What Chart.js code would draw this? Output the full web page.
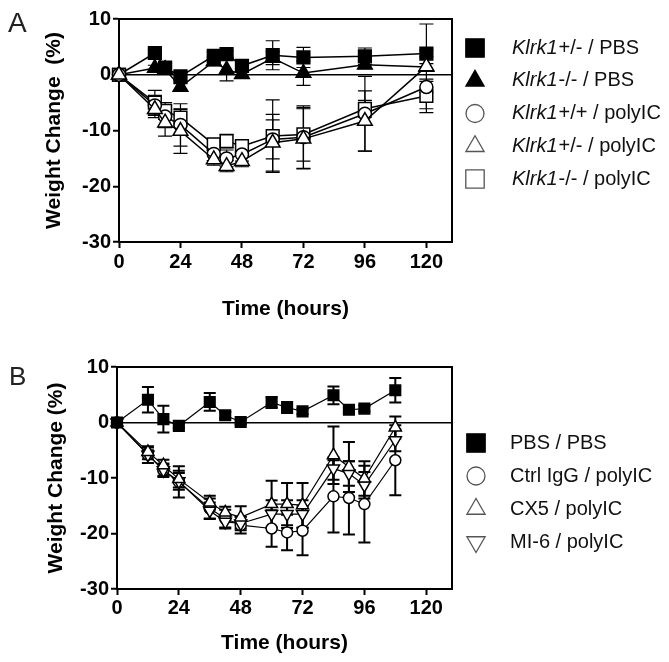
<!DOCTYPE html>
<html>
<head>
<meta charset="utf-8">
<script src="https://cdn.jsdelivr.net/npm/chart.js@4.4.1/dist/chart.umd.min.js"></script>
<style>
  html, body { margin: 0; padding: 0; background: #fff; }
  #wrap { position: relative; width: 669px; height: 662px; overflow: hidden; }
  canvas { position: absolute; left: 0; }
  #chartA { top: 0; }
  #chartB { top: 335px; }
</style>
</head>
<body>
<div id="wrap">
  <canvas id="chartA" width="669" height="335"></canvas>
  <canvas id="chartB" width="669" height="327"></canvas>
</div>
<script>
const FONT = 'Arial, "Liberation Sans", Helvetica, sans-serif';

// shared axes
const xTicks = [0, 24, 48, 72, 96, 120];
const yTicks = [-30, -20, -10, 0, 10];

// Panel A - Klrk1 mice
const timesA = [0, 14, 18, 24, 37, 42, 48, 60, 72, 96, 120];
const namesA = ["Klrk1+/- / PBS", "Klrk1-/- / PBS", "Klrk1+/+ / polyIC", "Klrk1+/- / polyIC", "Klrk1-/- / polyIC"];
const hetPbs = [0, 3.9, 1.3, -0.3, 3.4, 3.7, 1.6, 3.5, 3.1, 3.3, 3.8];
const hetPbsErr = [0, 0.6, 0.8, 0.8, 0.7, 0.6, 0.9, 2.6, 1.8, 1.5, 0.6];
const koPbs = [0, 1.2, 1.0, -2.2, 2.4, 0.9, 0.1, 3.0, 0.3, 1.8, 1.4];
const koPbsErr = [0, 0.5, 0.5, 0.6, 0.8, 2.0, 0.7, 1.2, 2.2, 0.7, 0.6];
const wtPoly = [0, -5.5, -7.5, -9.0, -14.2, -15.0, -14.3, -11.6, -11.2, -7.0, -2.2];
const wtPolyErr = [0, 1.8, 2.0, 3.8, 1.2, 1.5, 1.2, 3.5, 5.6, 6.7, 1.0];
const hetPoly = [0, -6.2, -8.6, -10.1, -15.2, -16.4, -15.5, -12.2, -11.5, -8.3, 1.5];
const hetPolyErr = [0, 1.5, 2.4, 4.0, 1.0, 1.0, 1.0, 5.1, 5.4, 5.4, 7.6];
const koPoly = [0, -5.0, -6.5, -7.7, -12.5, -11.9, -12.8, -11.0, -10.7, -6.1, -3.8];
const koPolyErr = [0, 2.2, 1.5, 1.5, 1.0, 1.2, 1.0, 6.5, 4.8, 1.5, 3.0];

// Panel B - antibody treatment
const timesB = [0, 12, 18, 24, 36, 42, 48, 60, 66, 72, 84, 90, 96, 108];
const namesB = ["PBS / PBS", "Ctrl IgG / polyIC", "CX5 / polyIC", "MI-6 / polyIC"];
const pbsPbs = [0, 4.1, 0.6, -0.6, 3.7, 1.3, 0.1, 3.6, 2.7, 2.0, 4.9, 2.3, 2.5, 5.8];
const pbsPbsErr = [0, 2.3, 2.4, 0.4, 1.6, 0.6, 0.4, 1.0, 1.0, 0.5, 1.6, 0.5, 0.5, 2.2];
const igGPoly = [0, -5.8, -8.6, -10.7, -15.5, -17.3, -18.5, -19.1, -19.8, -19.5, -13.3, -13.6, -14.7, -6.8];
const igGPolyErr = [0, 1.5, 1.2, 2.8, 1.8, 1.6, 1.5, 3.3, 3.2, 4.4, 6.5, 6.6, 6.9, 6.3];
const cx5Poly = [0, -5.3, -7.7, -10.2, -14.4, -16.2, -17.1, -14.7, -14.7, -14.9, -5.9, -8.0, -10.1, -0.9];
const cx5PolyErr = [0, 0.8, 1.0, 1.5, 1.2, 1.0, 2.0, 4.2, 3.8, 4.0, 5.2, 4.5, 3.1, 2.0];
const mi6Poly = [0, -5.8, -8.6, -10.6, -15.9, -17.9, -18.2, -16.5, -16.5, -16.5, -8.3, -9.2, -11.3, -3.2];
const mi6PolyErr = [0, 0.8, 1.0, 1.5, 1.5, 1.2, 1.2, 2.5, 2.5, 2.5, 2.0, 2.2, 2.4, 2.0];

const ITALIC_PREFIX = "Klrk1";

// marker shapes
const MARKERS = {
  square: { pointStyle: "rect", rotation: 0 },
  triangle: { pointStyle: "triangle", rotation: 0 },
  circle: { pointStyle: "circle", rotation: 0 },
  nabla: { pointStyle: "triangle", rotation: 180 },
};

const panelA = {
  canvas: "chartA",
  letter: "A", letterX: 8, letterY: 32, letterSize: 28,
  times: timesA,
  series: [
    { name: namesA[0], values: hetPbs, errors: hetPbsErr, marker: "square", filled: true, order: 3 },
    { name: namesA[1], values: koPbs, errors: koPbsErr, marker: "triangle", filled: true, order: 4 },
    { name: namesA[2], values: wtPoly, errors: wtPolyErr, marker: "circle", filled: false, order: 1 },
    { name: namesA[3], values: hetPoly, errors: hetPolyErr, marker: "triangle", filled: false, order: 0 },
    { name: namesA[4], values: koPoly, errors: koPolyErr, marker: "square", filled: false, order: 2 },
  ],
  yTitle: "Weight Change  (%)",
  padTop: 19, yAxisWidth: 119, xAxisHeight: 93,
  yTitlePad: 42, xTitlePad: 13, xTickPad: 2,
  radius: { square: 9, triangle: 8.5, circle: 6.5, nabla: 8.5 },
  lineWidth: 1.5, errWidth: 1.2, cap: 7,
  legend: { markerX: 475, textX: 512, top: 48, step: 32.75 },
};

const panelB = {
  canvas: "chartB",
  letter: "B", letterX: 9, letterY: 50, letterSize: 26,
  times: timesB,
  series: [
    { name: namesB[0], values: pbsPbs, errors: pbsPbsErr, marker: "square", filled: true, order: 0 },
    { name: namesB[1], values: igGPoly, errors: igGPolyErr, marker: "circle", filled: false, order: 3 },
    { name: namesB[2], values: cx5Poly, errors: cx5PolyErr, marker: "triangle", filled: false, order: 1 },
    { name: namesB[3], values: mi6Poly, errors: mi6PolyErr, marker: "nabla", filled: false, order: 2 },
  ],
  yTitle: "Weight Change (%)",
  padTop: 32, yAxisWidth: 117, xAxisHeight: 73,
  yTitlePad: 44, xTitlePad: 6, xTickPad: 1,
  radius: { square: 7.5, triangle: 7, circle: 5.5, nabla: 7 },
  lineWidth: 1.2, errWidth: 2, cap: 6,
  legend: { markerX: 476, textX: 510, top: 108, step: 33 },
};

const LEGEND_RADIUS = { square: 13, triangle: 10.5, circle: 9, nabla: 10.5 };

// error bars, drawn under the markers
const errorBarPlugin = {
  id: "errorBars",
  beforeDatasetsDraw(chart, args, opts) {
    const { ctx } = chart;
    const xs = chart.scales.x;
    const ys = chart.scales.y;
    ctx.save();
    ctx.strokeStyle = "#000";
    ctx.lineWidth = opts.width;
    chart.data.datasets.forEach((ds) => {
      ds.data.forEach((pt, i) => {
        let e = ds.errors[i];
        if (!e) return;
        let px = xs.getPixelForValue(pt.x);
        let top = ys.getPixelForValue(pt.y + e);
        let bot = ys.getPixelForValue(pt.y - e);
        ctx.beginPath();
        ctx.moveTo(px, top);
        ctx.lineTo(px, bot);
        ctx.moveTo(px - opts.cap, top);
        ctx.lineTo(px + opts.cap, top);
        ctx.moveTo(px - opts.cap, bot);
        ctx.lineTo(px + opts.cap, bot);
        ctx.stroke();
      });
    });
    ctx.restore();
  },
};

// top and right edges of the box
const framePlugin = {
  id: "frame",
  beforeDatasetsDraw(chart) {
    const { ctx, chartArea: a } = chart;
    ctx.save();
    ctx.strokeStyle = "#000";
    ctx.lineWidth = 2;
    ctx.beginPath();
    ctx.moveTo(a.left, a.top);
    ctx.lineTo(a.right, a.top);
    ctx.lineTo(a.right, a.bottom);
    ctx.stroke();
    ctx.restore();
  },
};

// legend with italic gene name + panel letter
const sideLegendPlugin = {
  id: "sideLegend",
  afterDraw(chart, args, opts) {
    const { ctx } = chart;
    const p = opts.panel;
    ctx.save();
    p.series.forEach((s, i) => {
      let y = p.legend.top + i * p.legend.step;
      let m = MARKERS[s.marker];
      ctx.fillStyle = s.filled ? "#000" : "#fff";
      ctx.strokeStyle = s.filled ? "#000" : "#555";
      ctx.lineWidth = 1.3;
      Chart.helpers.drawPoint(ctx, {
        pointStyle: m.pointStyle,
        radius: LEGEND_RADIUS[s.marker],
        rotation: m.rotation,
        borderWidth: 1.3,
      }, p.legend.markerX, y);

      ctx.fillStyle = "#111";
      ctx.textBaseline = "middle";
      ctx.textAlign = "left";
      let x = p.legend.textX;
      let rest = s.name;
      if (rest.startsWith(ITALIC_PREFIX)) {
        ctx.font = "italic 20px " + FONT;
        ctx.fillText(ITALIC_PREFIX, x, y);
        x += ctx.measureText(ITALIC_PREFIX).width + 1;
        rest = rest.slice(ITALIC_PREFIX.length);
      }
      ctx.font = "20px " + FONT;
      ctx.fillText(rest, x, y);
    });

    ctx.fillStyle = "#222";
    ctx.textBaseline = "alphabetic";
    ctx.font = p.letterSize + "px " + FONT;
    ctx.fillText(p.letter, p.letterX, p.letterY);
    ctx.restore();
  },
};

function makePanel(p) {
  let datasets = p.series.map((s) => {
    let m = MARKERS[s.marker];
    return {
      label: s.name,
      data: p.times.map((t, i) => ({ x: t, y: s.values[i] })),
      errors: s.errors,
      showLine: true,
      borderColor: "#000",
      borderWidth: p.lineWidth,
      pointStyle: m.pointStyle,
      pointRotation: m.rotation,
      pointRadius: p.radius[s.marker],
      pointHoverRadius: p.radius[s.marker],
      pointBackgroundColor: s.filled ? "#000" : "#fff",
      pointBorderColor: "#000",
      pointBorderWidth: 1.5,
      order: s.order,
      clip: false,
      tension: 0,
    };
  });

  return new Chart(document.getElementById(p.canvas), {
    type: "scatter",
    data: { datasets: datasets },
    plugins: [framePlugin, errorBarPlugin, sideLegendPlugin],
    options: {
      responsive: false,
      animation: false,
      events: [],
      layout: { padding: { left: 0, top: p.padTop, right: 217, bottom: 0 } },
      scales: {
        x: {
          type: "linear",
          min: 0,
          max: 130,
          afterBuildTicks: (scale) => {
            scale.ticks = xTicks.map((v) => ({ value: v }));
          },
          afterFit: (scale) => {
            scale.height = p.xAxisHeight;
          },
          grid: { drawOnChartArea: false, tickColor: "#000", tickLength: 6, tickWidth: 2 },
          border: { color: "#000", width: 2 },
          ticks: {
            color: "#000",
            font: { family: FONT, size: 20, weight: "bold" },
            padding: p.xTickPad,
            maxRotation: 0,
            autoSkip: false,
          },
          title: {
            display: true,
            text: "Time (hours)",
            color: "#000",
            font: { family: FONT, size: 21, weight: "bold" },
            padding: { top: 0, bottom: p.xTitlePad },
          },
        },
        y: {
          min: -30,
          max: 10,
          afterBuildTicks: (scale) => {
            scale.ticks = yTicks.map((v) => ({ value: v }));
          },
          afterFit: (scale) => {
            scale.width = p.yAxisWidth;
          },
          grid: {
            color: (c) => (c.tick && c.tick.value === 0 ? "#000" : "rgba(0,0,0,0)"),
            lineWidth: 1.5,
            tickColor: "#000",
            tickLength: 6,
            tickWidth: 2,
          },
          border: { color: "#000", width: 2 },
          ticks: {
            color: "#000",
            font: { family: FONT, size: 20, weight: "bold" },
            padding: 2,
          },
          title: {
            display: true,
            text: p.yTitle,
            color: "#000",
            font: { family: FONT, size: 21, weight: "bold" },
            padding: { top: p.yTitlePad, bottom: 0 },
          },
        },
      },
      plugins: {
        legend: { display: false },
        tooltip: { enabled: false },
        errorBars: { width: p.errWidth, cap: p.cap },
        sideLegend: { panel: p },
      },
    },
  });
}

makePanel(panelA);
makePanel(panelB);
</script>
</body>
</html>
